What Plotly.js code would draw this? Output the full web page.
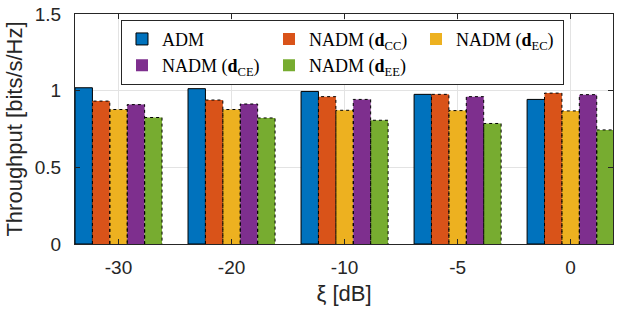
<!DOCTYPE html>
<html><head><meta charset="utf-8">
<script src="https://cdn.plot.ly/plotly-3.0.1.min.js"></script>
<style>body{margin:0;background:#fff}#c{width:623px;height:312px}</style>
</head><body><div id="c"></div>
<script>
const categories = ['-30', '-20', '-10', '-5', '0'];
const seriesNames = ['ADM', 'NADM (<b>d</b><sub>CC</sub>)', 'NADM (<b>d</b><sub>EC</sub>)', 'NADM (<b>d</b><sub>CE</sub>)', 'NADM (<b>d</b><sub>EE</sub>)'];
const adm    = [1.019, 1.013, 0.995, 0.976, 0.943];
const nadmCC = [0.932, 0.939, 0.961, 0.976, 0.984];
const nadmEC = [0.877, 0.877, 0.872, 0.870, 0.868];
const nadmCE = [0.909, 0.913, 0.943, 0.961, 0.974];
const nadmEE = [0.825, 0.822, 0.807, 0.786, 0.744];
const colors = ['#0072BD', '#D95319', '#EDB120', '#7E2F8E', '#77AC30'];
const series = [adm, nadmCC, nadmEC, nadmCE, nadmEE];

const groupWidth = 0.77;
const barW = groupWidth / series.length;
const idx = categories.map((_, i) => i);

const traces = series.map((v, i) => ({
  type: 'bar', x: idx.map(k => k - groupWidth / 2 + barW * (i + 0.5)), y: v, width: barW,
  name: seriesNames[i],
  marker: {color: colors[i], line: {color: i === 0 ? '#000' : 'rgba(0,0,0,0)', width: i === 0 ? 1 : 0}}
}));

// dotted outlines for NADM bars, derived from the data arrays
series.forEach((v, i) => {
  if (i === 0) return;
  const xs = [], ys = [];
  v.forEach((val, k) => {
    const x0 = k - groupWidth / 2 + barW * i, x1 = x0 + barW;
    xs.push(x0, x0, x1, x1, null);
    ys.push(0, val, val, 0, null);
  });
  traces.push({type: 'scatter', mode: 'lines', x: xs, y: ys, showlegend: false, hoverinfo: 'skip',
    line: {color: '#000', width: 1, dash: 'dot'}});
});

const layout = {
  width: 623, height: 312,
  margin: {l: 75, r: 10, t: 14, b: 68},
  paper_bgcolor: '#fff', plot_bgcolor: '#fff',
  barmode: 'overlay',
  font: {family: 'Liberation Sans, Arial, sans-serif', color: '#262626'},
  xaxis: {
    range: [-0.385, 4.375], tickvals: idx, ticktext: categories,
    showgrid: true, gridcolor: '#e3e3e3', gridwidth: 1, zeroline: false,
    showline: true, linecolor: '#262626', linewidth: 1, mirror: 'allticks',
    ticks: 'inside', ticklen: 5, tickcolor: '#262626', ticklabelstandoff: 6,
    tickfont: {size: 19, color: '#262626'},
    title: {text: 'ξ [dB]', font: {size: 22, color: '#262626'}, standoff: 8}
  },
  yaxis: {
    range: [0, 1.5], tickvals: [0, 0.5, 1, 1.5], ticktext: ['0', '0.5', '1', '1.5'],
    showgrid: true, gridcolor: '#e3e3e3', gridwidth: 1, zeroline: false,
    showline: true, linecolor: '#262626', linewidth: 1, mirror: 'allticks',
    ticks: 'inside', ticklen: 5, tickcolor: '#262626', ticklabelstandoff: 9,
    tickfont: {size: 19, color: '#262626'},
    title: {text: 'Throughput [bits/s/Hz]', font: {size: 22, color: '#262626'}, standoff: 6}
  },
  legend: {
    orientation: 'h', x: 0.0855, y: 0.975, xanchor: 'left', yanchor: 'top',
    bgcolor: '#fff', bordercolor: '#262626', borderwidth: 1,
    entrywidth: 102, entrywidthmode: 'pixels',
    font: {family: 'Liberation Serif, DejaVu Serif, serif', size: 18, color: '#000'},
    tracegroupgap: 0, itemwidth: 30
  },
  showlegend: true
};
Plotly.newPlot('c', traces, layout, {staticPlot: true});
</script></body></html>
